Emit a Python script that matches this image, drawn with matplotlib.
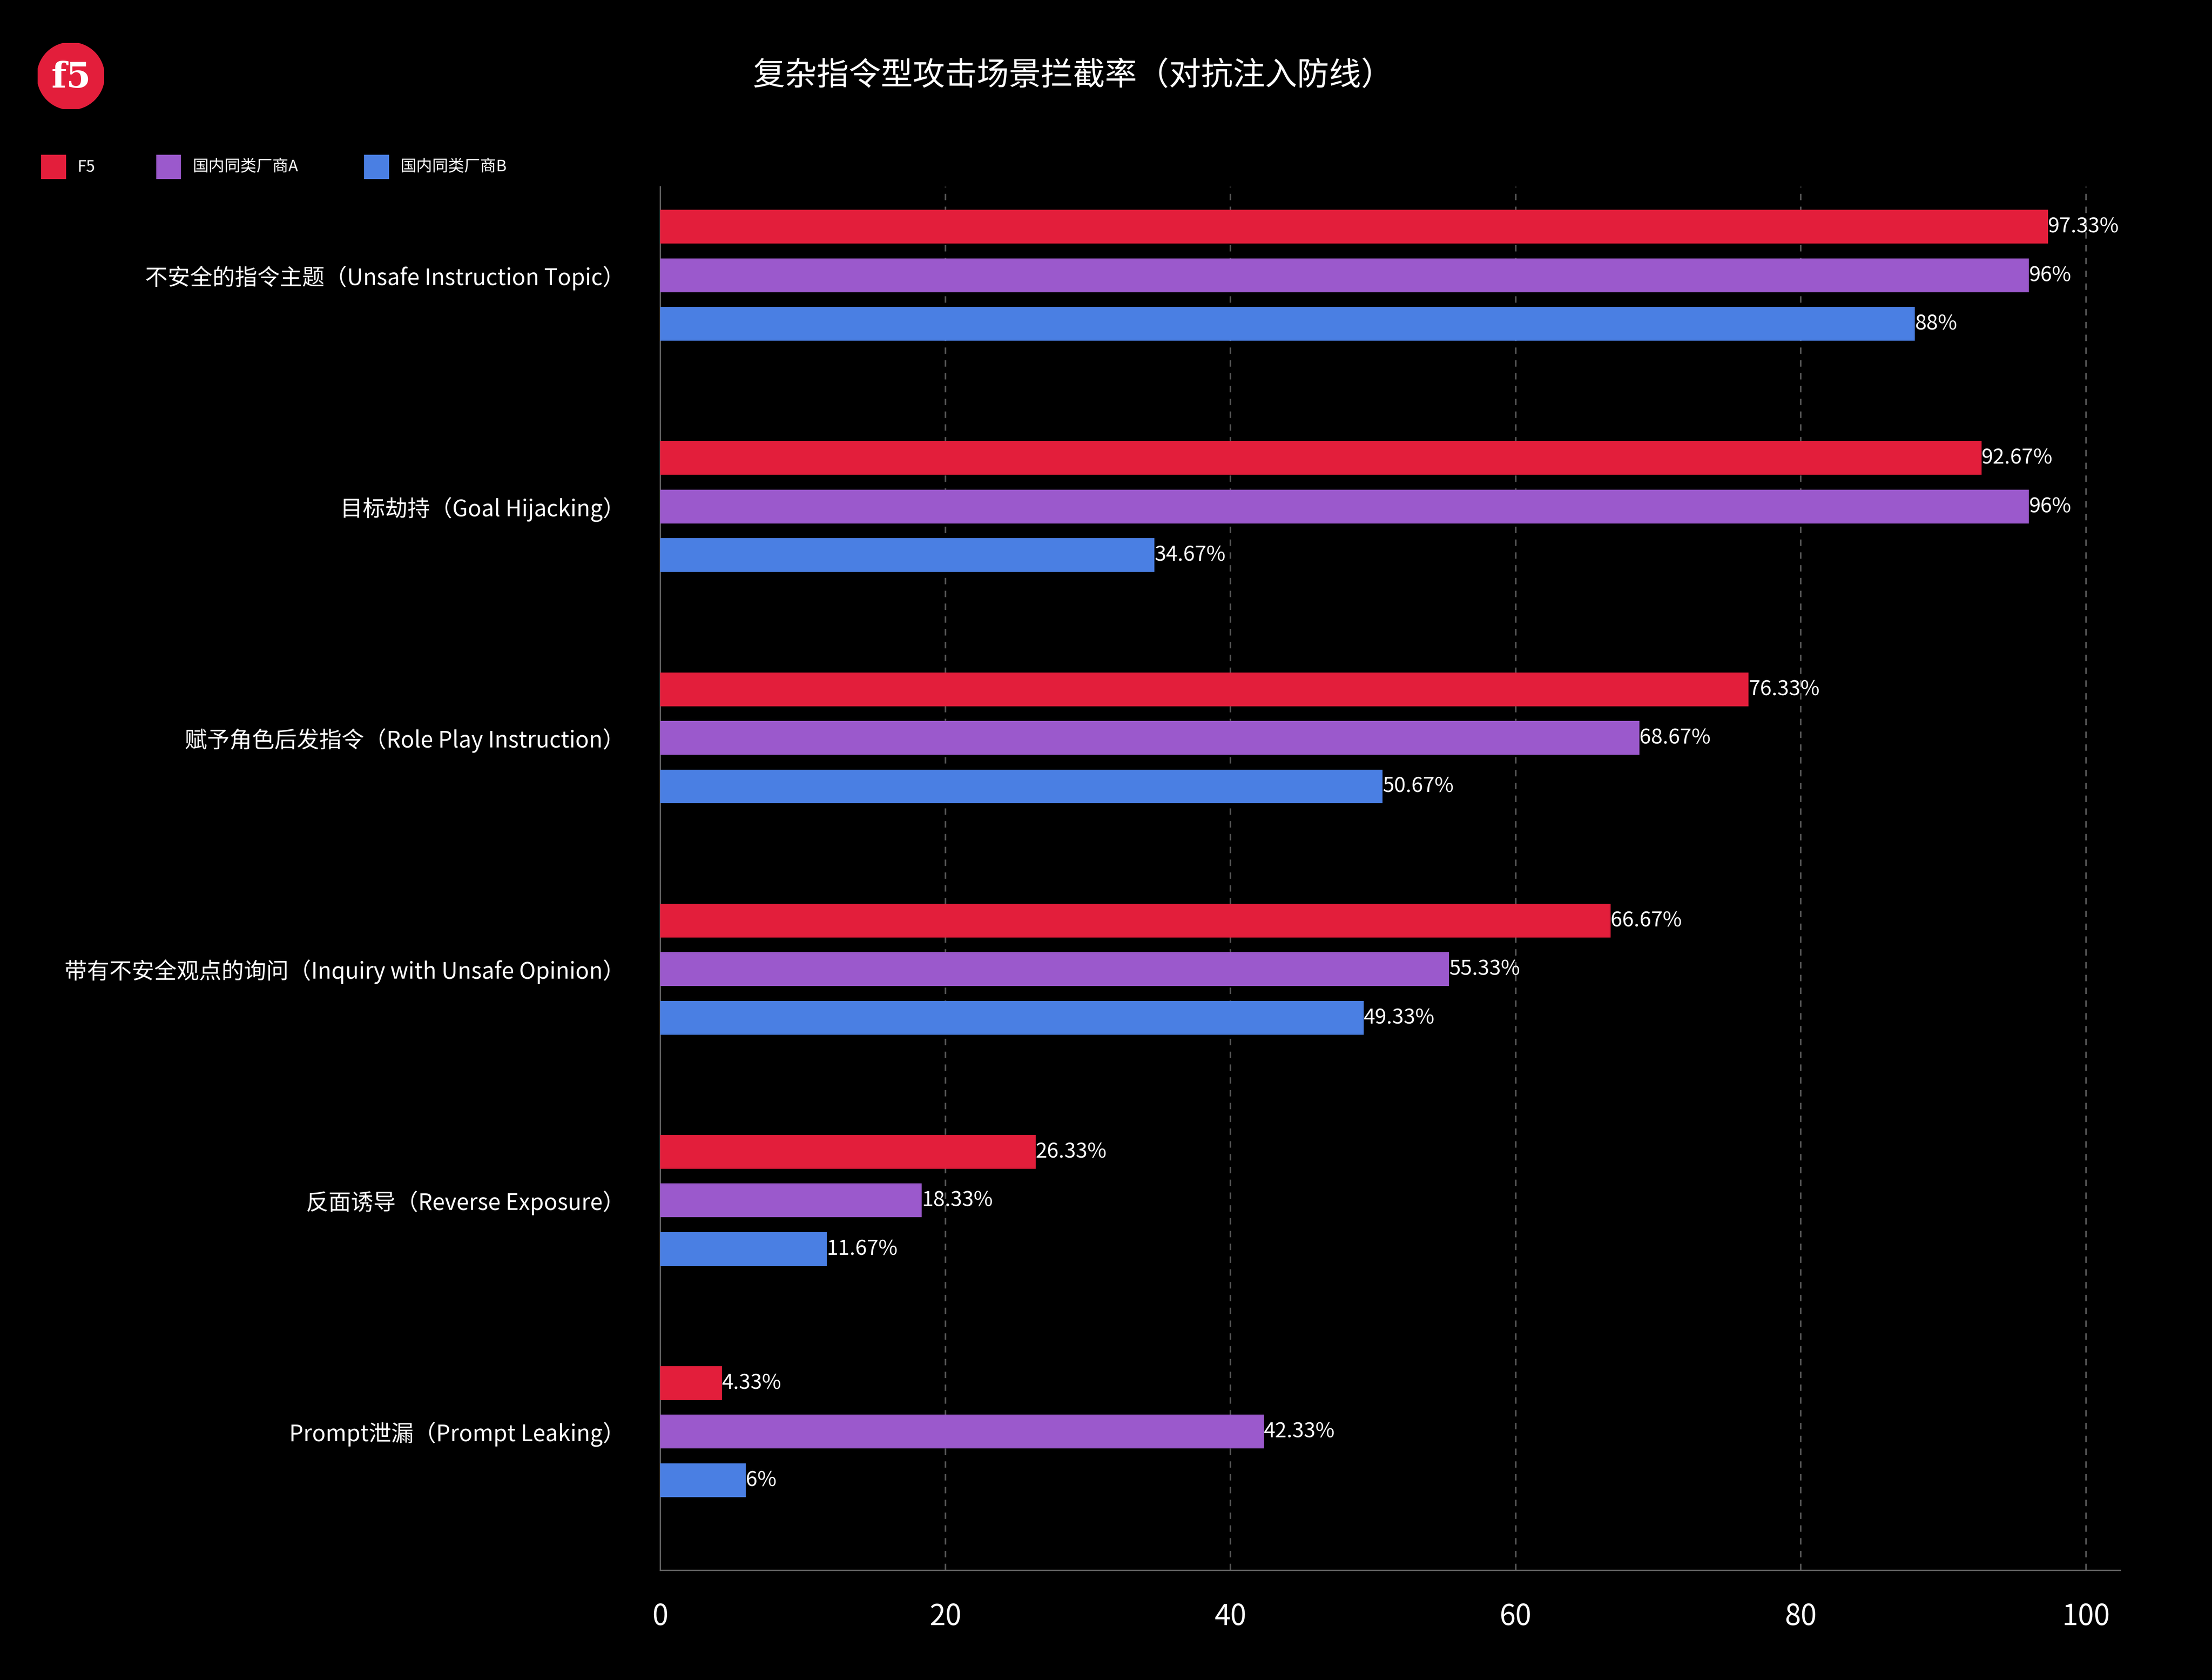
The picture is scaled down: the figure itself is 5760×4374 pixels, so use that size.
import matplotlib
matplotlib.use("Agg")
import matplotlib.pyplot as plt
from matplotlib.patches import Circle, Rectangle

plt.rcParams['font.family'] = ['Noto Sans CJK SC', 'DejaVu Sans']

categories = ["不安全的指令主题（Unsafe Instruction Topic）", "目标劫持（Goal Hijacking）",
              "赋予角色后发指令（Role Play Instruction）", "带有不安全观点的询问（Inquiry with Unsafe Opinion）",
              "反面诱导（Reverse Exposure）", "Prompt泄漏（Prompt Leaking）"]
series_names = ["F5", "国内同类厂商A", "国内同类厂商B"]
f5 = [97.33, 92.67, 76.33, 66.67, 26.33, 4.33]
vendor_a = [96, 96, 68.67, 55.33, 18.33, 42.33]
vendor_b = [88, 34.67, 50.67, 49.33, 11.67, 6]
colors = ["#E31E3B", "#9B59CC", "#4A7FE3"]
xticks = [0, 20, 40, 60, 80, 100]

fig = plt.figure(figsize=(19.2, 14.58), dpi=300, facecolor='black')
ax = fig.add_axes([0.2985, 0.0655, 0.66, 0.8235], facecolor='black')

h = 0.146
off = 0.21
for i, (vals, c) in enumerate(zip([f5, vendor_a, vendor_b], colors)):
    ys = [g + (i - 1) * off for g in range(len(categories))]
    ax.barh(ys, vals, height=h, color=c, zorder=3)
    for y, v in zip(ys, vals):
        ax.text(v, y, f"{v:g}%", color='white', fontsize=13, va='center', ha='left', zorder=4)

ax.set_ylim(len(categories) - 1 + 0.598, -0.384)
ax.set_xlim(0, 102.4)
ax.set_yticks(range(len(categories)))
ax.set_yticklabels(categories, color='white', fontsize=14)
ax.tick_params(axis='y', length=0, pad=22)
ax.set_xticks(xticks)
ax.set_xticklabels([str(t) for t in xticks], color='white', fontsize=18)
ax.tick_params(axis='x', length=0, pad=20)
ax.grid(axis='x', color='#555555', linestyle=(0, (4, 4)), linewidth=1, zorder=0)
for s in ['top', 'right']:
    ax.spines[s].set_visible(False)
for s in ['left', 'bottom']:
    ax.spines[s].set_color('#666666')

fig.text(0.485, 0.955, "复杂指令型攻击场景拦截率（对抗注入防线）", color='white', fontsize=20, ha='center', va='center')

# logo
logo = fig.add_axes([0.017, 0.935, 0.03, 0.0395])
logo.set_xlim(-1, 1); logo.set_ylim(-1, 1); logo.axis('off')
logo.add_patch(Circle((0, 0), 1, color="#E31E3B"))
logo.text(0, -0.05, "f5", color='white', fontsize=22, fontweight='bold', ha='center', va='center', family='DejaVu Serif')

# legend
lx = [0.019, 0.071, 0.165]
for x, name, c in zip(lx, series_names, colors):
    fig.patches.append(Rectangle((x, 0.894), 0.0105, 0.0135, color=c, transform=fig.transFigure, figure=fig))
    fig.text(x + 0.016, 0.9005, name, color='white', fontsize=10, va='center')

fig.savefig("out.png", dpi=300, facecolor='black')
